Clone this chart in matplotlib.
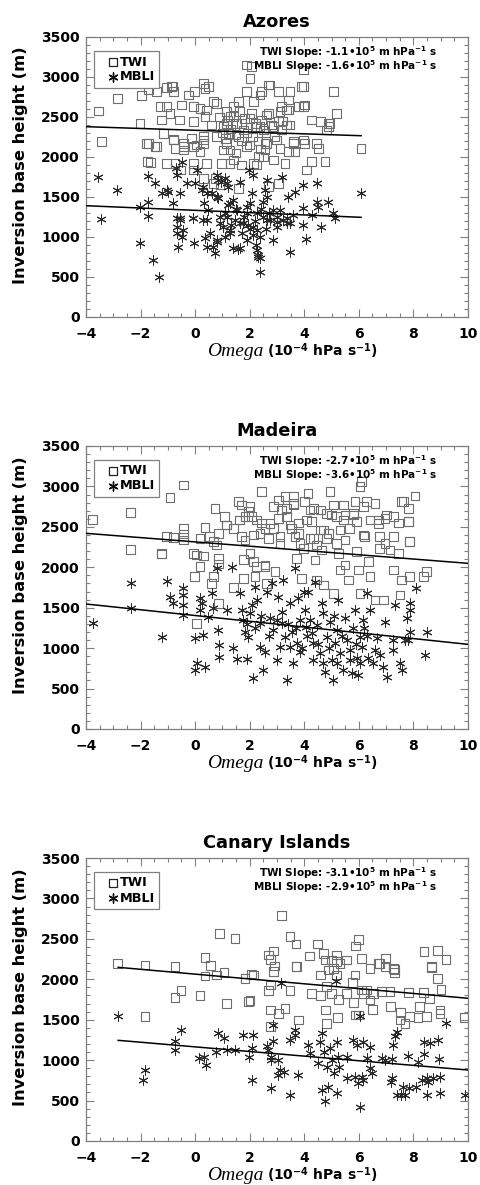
import matplotlib
matplotlib.use('Agg')
import matplotlib.pyplot as plt
from matplotlib.ticker import MultipleLocator
from matplotlib.patches import Rectangle

plt.rcParams.update({
    'font.family': 'DejaVu Sans',
    'font.weight': 'bold',
    'mathtext.fontset': 'custom',
    'mathtext.rm': 'DejaVu Sans:bold',
    'mathtext.bf': 'DejaVu Sans:bold',
    'mathtext.it': 'Liberation Serif:italic',
})

# ---- data: (omega [1e-4 hPa/s], inversion base height [m]) ----
titles = ['Azores', 'Madeira', 'Canary Islands']
twi_slopes = ['-1.1', '-2.7', '-3.1']
mbli_slopes = ['-1.6', '-3.6', '-2.9']

azores_twi = [
    (-3.55, 2575), (-3.43, 2192), (-2.84, 2733), (-2.02, 2421), (-1.96, 2767), (-1.72, 2846),
    (-1.72, 2171), (-1.65, 1934), (-1.41, 2817), (-1.41, 2129), (-1.29, 2629), (-1.04, 2629),
    (-1.23, 2463), (-0.86, 2879), (-1.04, 2871), (-0.80, 2817), (-0.92, 2546), (-0.80, 2213),
    (-0.74, 2108), (-0.56, 2463), (-0.49, 2650), (-0.25, 2775), (-0.07, 2442), (-0.01, 2817),
    (-0.07, 2629), (0.30, 2921), (0.36, 2858), (0.18, 2608), (0.42, 2588), (0.36, 2504),
    (0.66, 2692), (0.79, 2671), (0.61, 2400), (0.30, 2213), (0.06, 2150), (0.18, 2067),
    (-0.13, 2233), (-0.43, 2129), (1.16, 2567), (1.16, 2421), (1.22, 2296), (1.16, 2171),
    (1.03, 2088), (1.40, 2504), (1.40, 2629), (1.58, 2692), (1.64, 2567), (1.70, 2421),
    (1.76, 2338), (1.58, 2254), (1.89, 2817), (2.01, 2983), (2.07, 3129), (2.13, 2692),
    (2.07, 2546), (2.26, 2379), (2.38, 2775), (2.44, 2817), (2.44, 2463), (2.50, 2338),
    (2.68, 2546), (2.74, 2900), (2.62, 2171), (2.86, 2379), (3.05, 2442), (3.11, 2567),
    (3.17, 2338), (3.35, 2400), (3.48, 2400), (3.48, 2817), (3.41, 2588), (3.60, 2192),
    (3.78, 2629), (3.90, 2879), (4.02, 2650), (4.02, 2171), (3.96, 2879), (5.06, 2817),
    (4.27, 2463), (4.88, 2421), (5.19, 2546), (4.58, 2442), (4.82, 2338), (3.96, 2629),
    (3.35, 2588), (3.41, 2713), (3.17, 2629), (2.01, 2483), (2.38, 2379), (2.62, 2525),
    (1.52, 2421), (1.28, 2504), (1.03, 2379), (0.79, 2254), (0.30, 2254), (-0.07, 2129),
    (-0.43, 2171), (-1.74, 1942), (-1.78, 2171), (-1.47, 2129), (-1.17, 2296), (-1.04, 1921),
    (-0.80, 2221), (-0.74, 1921), (-0.55, 1838), (-0.43, 2088), (-0.07, 1921), (-0.07, 1838),
    (0.30, 1733), (0.30, 2171), (0.42, 1921), (0.67, 1671), (0.76, 1733), (0.91, 1650),
    (0.97, 1921), (1.28, 2088), (1.28, 1921), (1.40, 1963), (1.58, 1608), (1.70, 1900),
    (1.89, 2129), (2.13, 1921), (2.25, 1900), (2.32, 2004), (2.56, 2171), (2.56, 2088),
    (2.87, 1963), (2.68, 1629), (2.99, 2213), (3.11, 2108), (3.29, 1921), (3.05, 1671),
    (3.42, 2067), (3.60, 2171), (3.66, 2067), (3.97, 2213), (4.09, 1838), (4.27, 1942),
    (4.45, 2171), (4.52, 2108), (4.76, 1942), (6.08, 2108), (4.88, 2379), (4.94, 2421),
    (1.89, 3150), (3.96, 3088), (2.68, 2900), (3.05, 2817), (0.48, 2879), (-0.82, 2888),
    (1.00, 2300), (1.30, 2350), (1.50, 2280), (1.90, 2300), (2.10, 2250), (2.30, 2200),
    (2.60, 2300), (2.90, 2250), (1.10, 2230), (1.70, 2200), (2.00, 2150), (2.40, 2100),
    (2.80, 2400), (3.20, 2450), (1.20, 2460), (1.80, 2480), (2.20, 2420), (0.90, 2500),
    (2.50, 2000), (1.50, 2050),
]
azores_mbli = [
    (-3.55, 1746), (-3.45, 1221), (-2.85, 1588), (-2.02, 929), (-1.74, 1767), (-1.74, 1267),
    (-2.02, 1371), (-1.53, 713), (-1.31, 496), (-1.47, 1679), (-1.74, 1442), (-1.23, 1546),
    (-1.04, 1588), (-0.98, 1567), (-0.80, 1429), (-0.55, 1546), (-0.49, 1942), (-0.70, 1858),
    (-0.68, 1775), (-0.31, 1671), (-0.01, 1671), (0.06, 1838), (-0.68, 1233), (-0.55, 1213),
    (-0.43, 1088), (-0.49, 1004), (-0.68, 1046), (-0.62, 879), (-0.07, 1233), (-0.03, 921),
    (0.24, 1588), (0.32, 1421), (0.30, 1213), (0.36, 983), (0.42, 879), (0.48, 1338),
    (0.54, 1046), (0.61, 1546), (0.79, 1775), (0.85, 1483), (0.79, 942), (0.73, 804),
    (0.91, 1171), (0.94, 1692), (1.09, 1733), (1.22, 1629), (1.28, 1421), (1.16, 1254),
    (1.09, 1004), (1.28, 1088), (1.46, 1213), (1.40, 858), (1.58, 846), (1.52, 1338),
    (1.64, 1692), (1.77, 1171), (1.89, 1379), (1.95, 1150), (1.99, 1838), (2.13, 1775),
    (2.07, 1546), (2.25, 1296), (2.28, 1088), (2.13, 1025), (2.23, 900), (2.32, 775),
    (2.38, 733), (2.38, 567), (2.50, 1442), (2.56, 1588), (2.62, 1713), (2.74, 1213),
    (2.87, 963), (2.99, 1192), (3.11, 1338), (3.35, 1233), (3.17, 1754), (3.42, 1504),
    (3.48, 817), (3.66, 1567), (3.60, 1275), (3.97, 1650), (3.97, 1358), (3.97, 1150),
    (4.06, 971), (4.27, 1275), (4.48, 1671), (4.45, 1442), (4.52, 1371), (4.60, 1129),
    (4.88, 1442), (5.06, 1296), (5.13, 1233), (6.08, 1554), (3.35, 1171), (2.62, 1213),
    (0.30, 1629), (0.42, 1546), (0.79, 1504), (0.85, 1713), (1.16, 1671), (1.40, 1463),
    (0.91, 1254), (1.03, 1129), (1.28, 1046), (0.79, 963), (0.66, 879), (1.64, 1171),
    (1.89, 1296), (2.01, 1421), (2.13, 1129), (2.38, 1004), (2.50, 1254), (2.62, 1504),
    (2.86, 1338), (2.99, 1129), (3.23, 1213), (3.48, 1171), (1.89, 963), (2.26, 838),
    (2.32, 754), (1.64, 858), (0.42, 1213), (-0.07, 1233), (-0.56, 1233), (-0.68, 1129),
    (1.10, 1300), (1.50, 1350), (1.80, 1250), (2.20, 1200), (2.40, 1350), (2.70, 1300),
    (1.30, 1150), (1.70, 1050), (2.00, 1100), (2.60, 1100), (3.00, 1250), (1.20, 1400),
]
madeira_twi = [
    (-3.76, 2593), (-2.36, 2675), (-2.36, 2222), (-1.23, 2173), (-0.92, 2866), (-0.43, 3018),
    (-1.04, 2378), (-0.80, 2370), (-0.43, 2482), (-0.43, 2412), (-0.43, 2337), (-0.07, 2173),
    (0.06, 2152), (0.36, 2494), (0.18, 2358), (0.54, 2378), (0.67, 2316), (0.73, 2729),
    (0.85, 2420), (1.09, 2626), (1.16, 2523), (1.40, 2482), (1.58, 2811), (1.64, 2585),
    (1.70, 2770), (1.83, 2626), (1.95, 2687), (2.01, 2749), (2.07, 2626), (1.70, 2378),
    (1.83, 2337), (2.01, 2173), (2.13, 2399), (2.44, 2940), (2.44, 2549), (2.56, 2482),
    (2.68, 2358), (2.86, 2749), (3.05, 2832), (3.05, 2606), (3.11, 2378), (3.29, 2873),
    (3.35, 2729), (3.35, 2626), (3.48, 2523), (3.60, 2873), (3.60, 2791), (3.66, 2378),
    (3.78, 2549), (3.84, 2296), (4.02, 2811), (4.14, 2914), (4.21, 2708), (4.27, 2564),
    (4.33, 2358), (4.45, 2276), (4.58, 2708), (4.70, 2461), (4.82, 2358), (4.94, 2935),
    (5.06, 2770), (5.19, 2626), (5.31, 2461), (5.43, 2585), (5.49, 2647), (5.49, 2337),
    (5.80, 2647), (5.86, 2811), (5.92, 2564), (6.04, 2997), (6.10, 3059), (6.16, 2749),
    (6.22, 2378), (6.41, 2585), (6.59, 2791), (6.71, 2585), (6.77, 2378), (6.96, 2606),
    (7.57, 2811), (7.82, 2729), (7.82, 2564), (7.87, 2316), (8.06, 2882), (7.26, 2626),
    (7.45, 2549), (-1.23, 2164), (0.30, 2139), (0.18, 2008), (-0.01, 1884), (0.67, 1884),
    (0.61, 1802), (0.85, 2110), (0.85, 2040), (0.85, 1554), (0.79, 2276), (1.16, 2523),
    (1.64, 2585), (1.76, 2098), (1.76, 1863), (1.40, 1748), (2.01, 2173), (2.13, 2069),
    (2.19, 1884), (2.26, 2008), (2.38, 2420), (2.56, 2008), (2.62, 1802), (2.26, 2585),
    (0.06, 1307), (2.56, 2028), (2.74, 2544), (2.86, 2482), (3.11, 2296), (2.93, 1945),
    (3.17, 2708), (3.54, 2482), (3.60, 2770), (3.78, 2420), (3.72, 2110), (3.97, 2234),
    (3.90, 1863), (4.08, 2585), (4.21, 2358), (4.33, 2729), (4.39, 2090), (4.45, 1843),
    (4.58, 2461), (4.64, 2214), (4.70, 1781), (4.82, 2667), (4.88, 2420), (5.00, 2647),
    (5.06, 1678), (5.19, 2296), (5.25, 2173), (5.31, 1966), (5.43, 2770), (5.49, 2028),
    (5.61, 1843), (5.67, 2482), (5.80, 2667), (5.92, 2193), (5.98, 1966), (6.04, 1678),
    (6.16, 2399), (6.29, 2811), (6.35, 2069), (6.41, 1884), (6.59, 1595), (6.71, 2544),
    (6.77, 2234), (6.90, 1595), (6.96, 2296), (7.02, 2647), (7.14, 2214), (7.26, 2378),
    (7.26, 1966), (7.45, 2173), (7.51, 1657), (7.57, 1843), (7.82, 2564), (7.87, 2316),
    (7.87, 1884), (8.36, 1884), (8.48, 1945), (7.63, 2811),
]
madeira_mbli = [
    (-3.73, 1307), (-2.35, 1810), (-2.35, 1492), (-1.23, 1142), (-1.04, 1834), (-0.92, 1636),
    (-0.80, 1554), (-0.43, 1739), (-0.43, 1657), (-0.43, 1533), (-0.43, 1410), (-0.01, 1121),
    (0.06, 812), (-0.01, 730), (0.18, 1616), (0.24, 1554), (0.18, 1472), (0.30, 1162),
    (0.36, 771), (0.48, 1389), (0.61, 1678), (0.67, 1492), (0.79, 1987), (0.85, 1224),
    (0.88, 1039), (0.88, 894), (1.16, 1472), (1.34, 2008), (1.37, 998), (1.52, 862),
    (1.64, 1678), (1.70, 1472), (1.76, 1348), (1.83, 1203), (1.89, 862), (1.95, 1142),
    (2.01, 1430), (2.07, 1533), (2.13, 627), (2.19, 1760), (2.26, 1595), (2.38, 1307),
    (2.50, 730), (2.62, 1698), (2.74, 1369), (2.80, 1802), (2.86, 1224), (2.99, 853),
    (3.05, 1636), (3.11, 1018), (3.17, 1307), (3.23, 1843), (3.29, 1142), (3.35, 606),
    (3.48, 1554), (3.54, 1203), (3.60, 812), (3.66, 1987), (3.72, 1060), (3.78, 1616),
    (3.84, 1348), (3.90, 998), (4.02, 1472), (4.08, 1265), (4.14, 1698), (4.27, 1183),
    (4.33, 1060), (4.39, 1822), (4.45, 1286), (4.58, 936), (4.64, 1554), (4.70, 1430),
    (4.76, 709), (4.82, 1142), (4.94, 1327), (5.00, 853), (5.06, 606), (5.12, 1060),
    (5.19, 1224), (5.25, 1595), (5.31, 936), (5.43, 730), (5.49, 1369), (5.55, 1101),
    (5.67, 977), (5.74, 689), (5.80, 1245), (5.86, 1472), (5.92, 874), (5.98, 668),
    (6.04, 1142), (6.10, 1018), (6.16, 1348), (6.29, 1678), (6.35, 874), (6.41, 1472),
    (6.53, 812), (6.59, 977), (6.65, 1121), (6.77, 915), (6.90, 771), (6.96, 1327),
    (7.02, 647), (7.26, 1101), (7.26, 977), (7.32, 1533), (7.51, 812), (7.57, 730),
    (7.69, 1101), (7.75, 1369), (7.87, 1554), (7.87, 1472), (7.87, 1203), (8.11, 1739),
    (8.42, 915), (8.48, 1203), (7.81, 1101), (4.00, 1700), (2.38, 1018), (2.56, 956),
    (3.48, 1018), (3.84, 956), (4.33, 853), (4.70, 812), (5.19, 812), (5.67, 853),
    (6.04, 812), (2.20, 1250), (2.70, 1150), (3.00, 1350), (3.40, 1300), (3.70, 1250),
    (4.10, 1150), (4.50, 1050), (4.90, 1000), (5.40, 1150), (5.90, 1050), (6.30, 1150),
    (1.90, 1300), (2.40, 1400), (3.20, 1450), (4.20, 1350), (5.10, 1400), (6.20, 1250),
]
canary_twi = [
    (-2.84, 2198), (-1.84, 2177), (-0.74, 2156), (0.36, 2272), (0.57, 2167), (0.88, 2565),
    (1.46, 2504), (2.68, 2300), (2.86, 2350), (2.77, 2247), (3.17, 2786), (3.48, 2526),
    (3.70, 2436), (3.70, 2156), (4.18, 2288), (4.48, 2436), (4.70, 2321), (4.76, 2239),
    (5.00, 2239), (5.19, 2300), (5.19, 2218), (5.55, 2239), (5.89, 2412), (6.00, 2494),
    (6.10, 2259), (6.41, 2136), (6.77, 2198), (6.99, 2259), (7.26, 2136), (8.39, 2340),
    (8.89, 2353), (9.19, 2247), (8.67, 2156), (-1.84, 1537), (-0.74, 1772), (-0.52, 1858),
    (0.18, 1797), (0.36, 2040), (0.79, 2053), (1.06, 2086), (1.16, 1703), (1.83, 2012),
    (1.95, 1723), (2.01, 1739), (2.07, 2065), (2.13, 2053), (2.68, 1858), (2.77, 1929),
    (2.86, 2094), (2.92, 2164), (2.77, 1620), (3.05, 1579), (3.29, 1641), (3.48, 1858),
    (2.77, 1414), (3.72, 2156), (3.78, 1496), (4.27, 1826), (4.58, 2053), (4.58, 1802),
    (4.78, 1620), (4.82, 1909), (4.82, 1455), (4.88, 2115), (5.00, 1826), (5.06, 2136),
    (5.19, 2053), (5.22, 1529), (5.25, 1752), (5.31, 2194), (5.55, 1826), (5.77, 1958),
    (5.80, 1710), (5.86, 1558), (5.86, 2053), (5.98, 1558), (6.10, 1867), (6.16, 1826),
    (6.29, 1867), (6.41, 1744), (6.50, 1629), (6.53, 1826), (6.71, 2198), (6.84, 1846),
    (6.96, 2156), (7.14, 1846), (7.17, 1661), (7.30, 2082), (7.30, 2123), (7.51, 1496),
    (7.54, 1587), (7.69, 1455), (7.82, 1838), (7.87, 1537), (8.17, 1529), (8.21, 1661),
    (8.36, 1834), (8.48, 1537), (8.60, 1764), (8.67, 2148), (8.89, 2012), (8.97, 1620),
    (8.97, 1579), (9.01, 1875), (9.85, 1525),
]
canary_mbli = [
    (-2.84, 1550), (-0.53, 1373), (-0.74, 1237), (-0.74, 1125), (0.15, 1023), (0.32, 1043),
    (0.40, 940), (0.75, 1097), (0.85, 1332), (1.07, 1270), (1.16, 1125), (1.46, 1125),
    (1.74, 1311), (2.13, 1311), (1.98, 1035), (2.07, 1146), (2.64, 1175), (2.68, 1125),
    (2.77, 1043), (2.86, 1237), (2.86, 1434), (2.77, 1002), (3.05, 997), (3.15, 1958),
    (3.11, 880), (3.26, 857), (3.48, 1249), (3.67, 1311), (3.67, 1373), (3.78, 816),
    (4.14, 1187), (4.21, 1085), (4.51, 961), (4.58, 1229), (4.64, 1340), (4.73, 1105),
    (4.82, 919), (4.94, 1146), (5.00, 1002), (5.09, 837), (5.16, 1983), (5.19, 1229),
    (5.25, 1043), (5.28, 919), (5.55, 1043), (5.77, 1249), (5.92, 1187), (6.04, 1546),
    (6.10, 795), (6.16, 1229), (6.29, 1023), (6.41, 1167), (6.41, 898), (6.84, 1023),
    (6.96, 1002), (7.20, 1010), (7.38, 1352), (7.32, 1299), (7.81, 1051), (8.17, 981),
    (8.39, 1229), (8.39, 1072), (8.60, 1216), (8.89, 1249), (8.95, 1010), (9.19, 1455),
    (7.26, 1187), (-1.90, 754), (2.07, 754), (2.77, 652), (3.48, 569), (4.64, 631),
    (4.88, 672), (4.76, 499), (5.19, 590), (5.98, 713), (6.06, 425), (6.14, 754),
    (7.16, 734), (7.38, 569), (7.56, 569), (7.62, 672), (7.68, 569), (7.83, 652),
    (8.11, 672), (8.48, 569), (8.54, 734), (8.97, 590), (9.88, 569), (8.33, 754),
    (-1.84, 878), (3.05, 816), (5.55, 775), (5.86, 795), (6.47, 837), (7.20, 775),
    (8.48, 775), (8.72, 775), (8.97, 795),
]
# regression lines: (omega_start, omega_end), (height_start, height_end)
twi_fit_omega = [(-4.0, 6.08), (-4.0, 10.0), (-2.82, 10.0)]
twi_fit_height = [(2379, 2266), (2420, 2049), (2148, 1765)]
mbli_fit_omega = [(-4.0, 6.08), (-4.0, 10.0), (-2.82, 10.0)]
mbli_fit_height = [(1391, 1246), (1546, 1047), (1245, 878)]

twi_sets = [azores_twi, madeira_twi, canary_twi]
mbli_sets = [azores_mbli, madeira_mbli, canary_mbli]

W, H = 481, 1185
fig = plt.figure(figsize=(W / 100, H / 100), dpi=100)
# axes boxes in pixels: (top, bottom)
boxes = [(37, 317), (446, 729), (858, 1141)]
left_px, right_px = 86, 468

grey = '#808080'
for i, (top, bot) in enumerate(boxes):
    ax = fig.add_axes([left_px / W, 1 - bot / H, (right_px - left_px) / W, (bot - top) / H])
    hgt = bot - top
    tx, ty = zip(*twi_sets[i])
    mx, my = zip(*mbli_sets[i])
    ax.scatter(tx, ty, marker='s', s=40, facecolors='none', edgecolors='#6e6e6e',
               linewidths=0.8, zorder=2)
    ax.scatter(mx, my, marker=(6, 2, 0), s=45, color='#2a2a2a', linewidths=0.7, zorder=3)
    ax.plot(twi_fit_omega[i], twi_fit_height[i], color='black', lw=1.1, zorder=4)
    ax.plot(mbli_fit_omega[i], mbli_fit_height[i], color='black', lw=1.1, zorder=4)

    ax.set_xlim(-4, 10)
    ax.set_ylim(0, 3500)
    ax.xaxis.set_major_locator(MultipleLocator(2))
    ax.xaxis.set_minor_locator(MultipleLocator(0.5))
    ax.yaxis.set_major_locator(MultipleLocator(500))
    ax.yaxis.set_minor_locator(MultipleLocator(100))
    ax.tick_params(which='both', direction='in', top=True, right=True, color=grey,
                   labelsize=10, width=0.8)
    ax.tick_params(which='major', length=6)
    ax.tick_params(which='minor', length=3)
    ax.tick_params(axis='x', pad=7.5)
    ax.tick_params(axis='y', pad=4.5)
    for sp in ax.spines.values():
        sp.set_color(grey)
        sp.set_linewidth(0.9)

    ax.set_title(titles[i], fontsize=12.8, fontweight='bold', pad=7)
    ax.set_ylabel('Inversion base height (m)', fontsize=11.7, fontweight='bold', va='center')
    ax.yaxis.set_label_coords(-(left_px - 21) / (right_px - left_px), 0.543)

    # x label: italic serif "Omega" followed by bold sans units
    ax.text(0.465, -39 / hgt, 'Omega', transform=ax.transAxes, ha='right', va='baseline',
            fontsize=14, family='Liberation Serif', style='italic', fontweight='normal')
    ax.text(0.473, -39 / hgt, r'(10$^{-4}$ hPa s$^{-1}$)', transform=ax.transAxes,
            ha='left', va='baseline', fontsize=10, fontweight='bold')

    # slope annotations
    ax.text(0.92, 1 - 15 / hgt, 'TWI Slope: ' + twi_slopes[i] + '\u2022' + r'10$^{5}$ m hPa$^{-1}$ s',
            transform=ax.transAxes, ha='right', va='center', fontsize=7.5, fontweight='bold')
    ax.text(0.92, 1 - 29 / hgt, 'MBLI Slope: ' + mbli_slopes[i] + '\u2022' + r'10$^{5}$ m hPa$^{-1}$ s',
            transform=ax.transAxes, ha='right', va='center', fontsize=7.5, fontweight='bold')

    # legend box
    ax.add_patch(Rectangle((0.021, 1 - 51 / hgt), 0.17, 37 / hgt, transform=ax.transAxes,
                           facecolor='white', edgecolor=grey, lw=0.9, zorder=5))
    ax.scatter([0.07], [1 - 25 / hgt], transform=ax.transAxes, marker='s', s=32,
               facecolors='none', edgecolors='#222222', linewidths=0.9, zorder=6)
    ax.scatter([0.07], [1 - 40 / hgt], transform=ax.transAxes, marker=(6, 2, 0), s=42,
               color='#111111', linewidths=1.0, zorder=6)
    ax.text(0.089, 1 - 25 / hgt, 'TWI', transform=ax.transAxes, va='center', fontsize=9.3,
            fontweight='bold', zorder=6)
    ax.text(0.089, 1 - 40 / hgt, 'MBLI', transform=ax.transAxes, va='center', fontsize=9.3,
            fontweight='bold', zorder=6)

fig.savefig('out.png', dpi=100)
